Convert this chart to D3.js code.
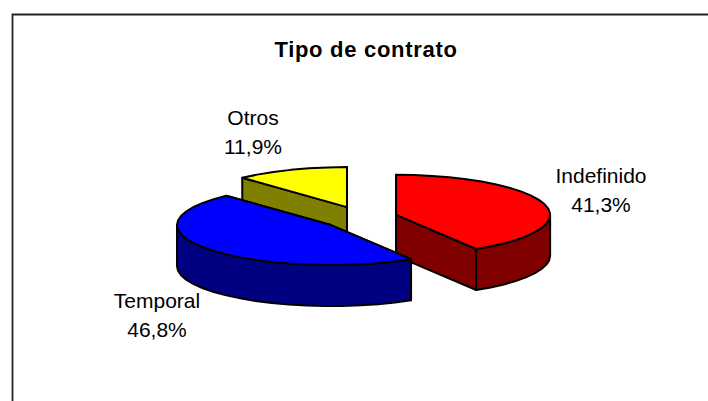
<!DOCTYPE html>
<html>
<head>
<meta charset="utf-8">
<script src="https://cdn.jsdelivr.net/npm/d3@7"></script>
<style>
  html, body { margin: 0; padding: 0; background: #fff; overflow: hidden; }
  text { font-family: "Liberation Sans", Arial, sans-serif; fill: #000; }
</style>
</head>
<body>
<svg></svg>
<script>
const w = 708;
const h = 401;

const title = 'Tipo de contrato';
const categories = ['Indefinido', 'Temporal', 'Otros'];
const values = [41.3, 46.8, 11.9];
const valueLabels = ['41,3%', '46,8%', '11,9%'];
const topColors = ['#ff0000', '#0000ff', '#ffff00'];
const sideColors = ['#800000', '#000080', '#808000'];

// pie geometry, tilted so the circle becomes an ellipse
const cx = 360.5;
const cy = 218;
const rx = 154;
const ry = 40;
const depth = 41;
const explodeX = 37;
const explodeY = 11.7;

const svg = d3.select('svg')
    .attr('width', w)
    .attr('height', h)
    .style('display', 'block');

// chart frame, only top and left are in the picture
svg.append('path')
    .attr('d', 'M12.5,' + h + 'V14.5H' + w)
    .attr('fill', 'none')
    .attr('stroke', '#222')
    .attr('stroke-width', 1.8);

const slices = d3.pie().sort(null)(values);

// draw back to front: Otros, Indefinido, Temporal
const order = [2, 0, 1];

const line = d3.line();

function pt(c, a, dz) {
    return [c[0] + rx * Math.sin(a), c[1] - ry * Math.cos(a) + (dz || 0)];
}

function arcPts(c, a0, a1, dz) {
    const n = Math.max(2, Math.round(Math.abs(a1 - a0) / 0.12));
    return d3.range(n + 1).map(i => pt(c, a0 + (a1 - a0) * i / n, dz));
}

order.forEach(i => {
    const s = slices[i];
    const mid = (s.startAngle + s.endAngle) / 2;
    const c = [cx + explodeX * Math.sin(mid), cy - explodeY * Math.cos(mid)];
    const g = svg.append('g').attr('stroke', '#000').attr('stroke-width', 2).attr('stroke-linejoin', 'round');

    // radial walls
    [s.startAngle, s.endAngle].forEach(a => {
        const p = pt(c, a);
        g.append('path')
            .attr('d', line([c, p, pt(c, a, depth), [c[0], c[1] + depth]]) + 'Z')
            .attr('fill', sideColors[i]);
    });

    // outer wall, only the part facing the viewer
    const a0 = Math.max(s.startAngle, Math.PI / 2);
    const a1 = Math.min(s.endAngle, 3 * Math.PI / 2);
    if (a1 > a0) {
        const wall = arcPts(c, a0, a1, 0).concat(arcPts(c, a1, a0, depth));
        g.append('path')
            .attr('d', line(wall) + 'Z')
            .attr('fill', sideColors[i]);
    }

    // top face
    g.append('path')
        .attr('d', line([c].concat(arcPts(c, s.startAngle, s.endAngle, 0))) + 'Z')
        .attr('fill', topColors[i]);
});

// labels
svg.append('text')
    .attr('x', 366)
    .attr('y', 57)
    .attr('text-anchor', 'middle')
    .attr('font-size', 22)
    .attr('font-weight', 'bold')
    .attr('letter-spacing', 0.7)
    .text(title);

const labelX = [601, 157, 253];
const labelY = [183, 308, 125];

categories.forEach((d, i) => {
    const t = svg.append('text')
        .attr('text-anchor', 'middle')
        .attr('font-size', 21);
    t.append('tspan').attr('x', labelX[i]).attr('y', labelY[i]).text(d);
    t.append('tspan').attr('x', labelX[i]).attr('y', labelY[i] + 29).text(valueLabels[i]);
});
</script>
</body>
</html>
